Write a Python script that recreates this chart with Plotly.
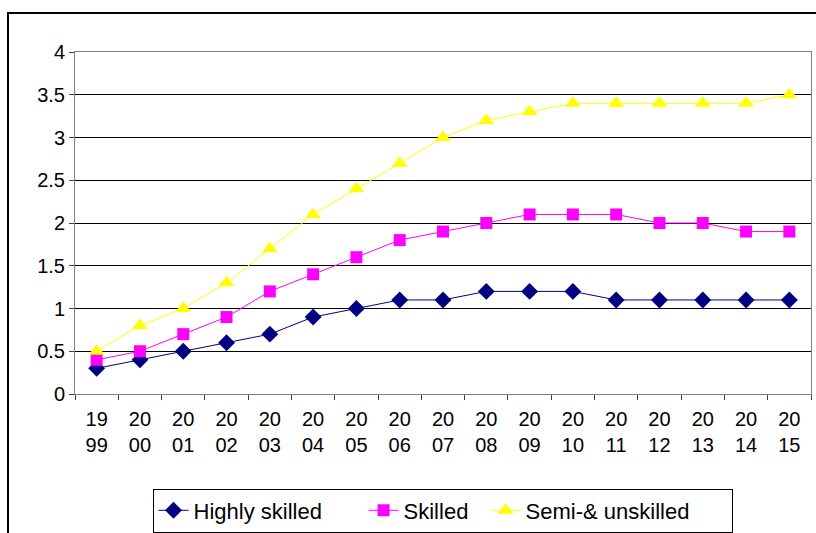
import plotly.graph_objects as go

years = [str(y) for y in range(1999, 2016)]
tick_labels = [y[:2] + "<br>" + y[2:] for y in years]
highly = [0.3, 0.4, 0.5, 0.6, 0.7, 0.9, 1.0, 1.1, 1.1, 1.2, 1.2, 1.2, 1.1, 1.1, 1.1, 1.1, 1.1]
skilled = [0.4, 0.5, 0.7, 0.9, 1.2, 1.4, 1.6, 1.8, 1.9, 2.0, 2.1, 2.1, 2.1, 2.0, 2.0, 1.9, 1.9]
semi = [0.5, 0.8, 1.0, 1.3, 1.7, 2.1, 2.4, 2.7, 3.0, 3.2, 3.3, 3.4, 3.4, 3.4, 3.4, 3.4, 3.5]
names = ["Highly skilled", "Skilled", "Semi-& unskilled"]

NB = "\u00a0"
fig = go.Figure()
fig.add_trace(go.Scatter(x=years, y=highly, name=names[0] + NB * 6, mode="lines+markers",
                         line=dict(color="#000080", width=1),
                         marker=dict(symbol="diamond", size=13, color="#000080")))
fig.add_trace(go.Scatter(x=years, y=skilled, name=names[1] + NB * 2, mode="lines+markers",
                         line=dict(color="#FF00FF", width=1),
                         marker=dict(symbol="square", size=12, color="#FF00FF")))
fig.add_trace(go.Scatter(x=years, y=semi, name=names[2] + NB * 6, mode="lines+markers",
                         line=dict(color="#FFFF00", width=1),
                         marker=dict(symbol="triangle-up", size=14, color="#FFFF00")))

FAM = "Liberation Sans, Arial, sans-serif"
tick_font = dict(family=FAM, size=20, color="black")
legend_font = dict(family=FAM, size=22, color="black")

W, H = 816, 533
fig.update_layout(
    width=W, height=H,
    margin=dict(l=75, r=5, t=52, b=139, autoexpand=False),
    paper_bgcolor="white", plot_bgcolor="white",
    font=tick_font,
    showlegend=True,
    legend=dict(orientation="h", x=442.5 / W, xref="container", y=1 - 510.5 / H, yref="container",
                xanchor="center", yanchor="middle",
                bordercolor="black", borderwidth=1, font=legend_font,
                tracegroupgap=0),
    xaxis=dict(type="category", tickmode="array", tickvals=years, ticktext=tick_labels,
               tickson="boundaries", ticks="outside", ticklen=5, tickcolor="#404040",
               ticklabelstandoff=7,
               showgrid=False, showline=True, linecolor="#808080", mirror=True,
               tickfont=tick_font, range=[-0.5, 16.5], automargin=False),
    yaxis=dict(range=[0, 4], tickvals=[0, 0.5, 1, 1.5, 2, 2.5, 3, 3.5, 4],
               ticktext=["0", "0.5", "1", "1.5", "2", "2.5", "3", "3.5", "4"],
               ticks="outside", ticklen=5, tickcolor="#404040",
               showgrid=True, gridcolor="black", gridwidth=1, zeroline=False,
               showline=True, linecolor="#808080", mirror=True, tickfont=tick_font,
               automargin=False),
    shapes=[dict(type="rect", xref="paper", yref="paper",
                 x0=(8 - 75) / 736, x1=1.2, y0=-0.6, y1=1 + (52 - 13) / 342,
                 line=dict(color="black", width=2), fillcolor="rgba(0,0,0,0)", layer="below")],
)

fig.write_html("out.html", config={"displayModeBar": False},
               post_script="document.body.style.margin='0';document.body.style.overflow='hidden';")
